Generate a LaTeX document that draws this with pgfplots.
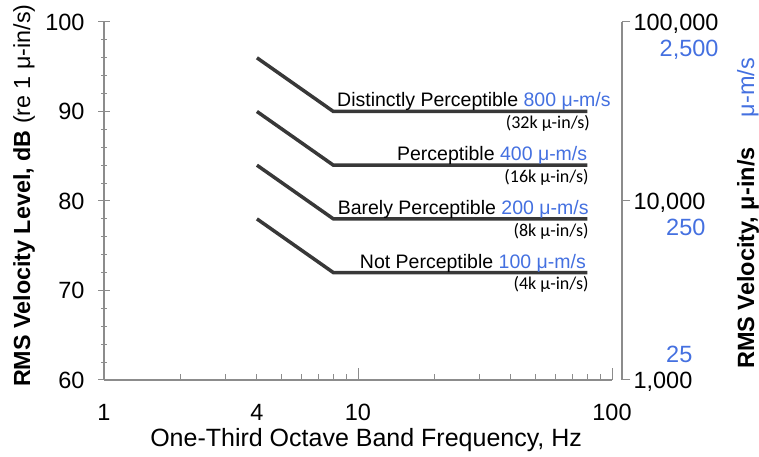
\documentclass[border=0pt]{standalone}
\usepackage{fontspec}
\setmainfont{Liberation Sans}
\newfontfamily\calib{Carlito}
\usepackage{pgfplots}
\pgfplotsset{compat=1.18}
\definecolor{bl}{HTML}{4470E0}
\definecolor{axg}{HTML}{8C8C8C}
\definecolor{ln}{HTML}{383838}
\newcommand{\tf}{\fontsize{23.5}{26}\selectfont}
\newcommand{\af}{\fontsize{19.5}{22}\selectfont}
\newcommand{\subf}{\calib\fontsize{18}{20}\selectfont}
\begin{document}
\begin{tikzpicture}
\useasboundingbox (-104pt,-77pt) rectangle (655pt,380pt);
\begin{axis}[at={(0pt,0pt)}, anchor=south west, scale only axis,
  width=508pt, height=358pt, clip=false,
  xmode=log, xmin=1, xmax=100, ymin=60, ymax=100,
  axis x line*=bottom, axis y line*=left,
  axis line style={axg, line width=1.2pt},
  every tick/.style={axg, line width=1pt},
  major tick length=12pt, minor tick length=6pt,
  ytick align=center, xtick align=inside,
  xtick={1,10,100}, xticklabels={1,10,100},
  extra x ticks={4}, extra x tick labels={4},
  extra x tick style={major tick length=0pt},
  ytick={60,70,80,90,100}, minor y tick num=4,
  /pgf/number format/assume math mode=true,
  tick label style={font=\tf, text=black},
  xticklabel style={yshift=-21pt},
  yticklabel style={xshift=-10pt},
  xlabel={One-Third Octave Band Frequency, Hz},
  xlabel style={at={(axis description cs:0.516,-0.168)}, anchor=center, font=\fontsize{25}{28}\selectfont},
  ylabel={\textbf{RMS Velocity Level, dB} (re 1 μ-in/s)},
  ylabel style={at={(axis description cs:-0.1575,0.515)}, anchor=center, font=\fontsize{23.3}{26}\selectfont},
]
\addplot[ln, line width=3.5pt] coordinates {(4,96) (8,90) (80,90)};
\addplot[ln, line width=3.5pt] coordinates {(4,90) (8,84) (80,84)};
\addplot[ln, line width=3.5pt] coordinates {(4,84) (8,78) (80,78)};
\addplot[ln, line width=3.5pt] coordinates {(4,78) (8,72) (80,72)};
\node[anchor=base east, font=\af, inner sep=0pt, yshift=4.5pt] at (axis cs:99,90) {Distinctly Perceptible \textcolor{bl}{800 μ-m/s}};
\node[anchor=base east, font=\af, inner sep=0pt, yshift=4.5pt] at (axis cs:80,84) {Perceptible \textcolor{bl}{400 μ-m/s}};
\node[anchor=base east, font=\af, inner sep=0pt, yshift=4.5pt] at (axis cs:81,78) {Barely Perceptible \textcolor{bl}{200 μ-m/s}};
\node[anchor=base east, font=\af, inner sep=0pt, yshift=4.5pt] at (axis cs:79,72) {Not Perceptible \textcolor{bl}{100 μ-m/s}};
\node[anchor=east, font=\subf, inner sep=0pt, yshift=-12pt] at (axis cs:82,90) {(32k μ-in/s)};
\node[anchor=east, font=\subf, inner sep=0pt, yshift=-12pt] at (axis cs:81,84) {(16k μ-in/s)};
\node[anchor=east, font=\subf, inner sep=0pt, yshift=-12pt] at (axis cs:81,78) {(8k μ-in/s)};
\node[anchor=east, font=\subf, inner sep=0pt, yshift=-12pt] at (axis cs:81,72) {(4k μ-in/s)};
\node[rotate=90, anchor=center, font=\fontsize{23.5}{26}\selectfont] at (axis description cs:1.268,0.465) {\textbf{RMS Velocity, μ-in/s}\hspace{30pt}\textcolor{bl}{μ-m/s}};
\end{axis}
\begin{axis}[at={(508pt,0pt)}, anchor=south west, scale only axis,
  width=10pt, height=358pt,
  xmin=0, xmax=1, ymode=log, ymin=1000, ymax=100000,
  axis x line=none, axis y line*=right,
  axis line style={axg, line width=1.2pt},
  every tick/.style={axg, line width=1pt},
  major tick length=8pt, ytick align=outside,
  ytick={1000,10000,100000}, yminorticks=false,
  yticklabels={{\begin{tabular}[b]{@{}r@{}}\textcolor{bl}{25}\\1,000\end{tabular}},
               {\begin{tabular}[t]{@{}r@{}}10,000\\\textcolor{bl}{250}\end{tabular}},
               {\begin{tabular}[t]{@{}r@{}}100,000\\\textcolor{bl}{2,500}\end{tabular}}},
  yticklabel style={anchor=base west, yshift=-8.5pt, font=\tf, text=black},
]
\addplot[draw=none] coordinates {(0,1000) (1,100000)};
\end{axis}
\end{tikzpicture}
\end{document}
